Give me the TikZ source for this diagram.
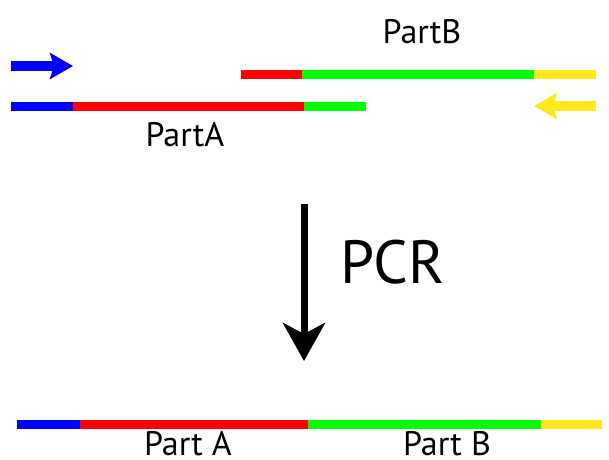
\documentclass[tikz,border=0pt]{standalone}
\usepackage{fontspec}
\setmainfont{PT Sans}
\usetikzlibrary{arrows.meta}
\definecolor{dnablue}{RGB}{0,0,255}
\definecolor{dnared}{RGB}{255,0,0}
\definecolor{dnagreen}{RGB}{0,255,0}
\definecolor{dnayellow}{RGB}{255,232,30}

\begin{document}
\begin{tikzpicture}[x=1pt,y=-1pt,
    strand/.style={line width=9pt},
    primer/.style={line width=10pt,-{Stealth[length=23pt,width=26pt,inset=4pt]}},
    lbl/.style={anchor=base,inner sep=0pt,font=\fontsize{34}{38}\selectfont}]
    \useasboundingbox (0,0) rectangle (609,459);

    % PartB template strand
    \draw[strand,dnared] (241,74) -- (302,74);
    \draw[strand,dnagreen] (302,74) -- (534,74);
    \draw[strand,dnayellow] (534,74) -- (596,74);
    \node[lbl] (partB) at (422,43) {PartB};

    % PartA template strand
    \draw[strand,dnablue] (11,106) -- (73,106);
    \draw[strand,dnared] (73,106) -- (304,106);
    \draw[strand,dnagreen] (304,106) -- (366,106);
    \node[lbl] (partA) at (185,146) {PartA};

    % primers
    \coordinate (fwdS) at (11,66);
    \coordinate (fwdE) at (73,66);
    \coordinate (revS) at (596,106);
    \coordinate (revE) at (534,106);
    \draw[primer,dnablue] (fwdS) -- (fwdE);
    \draw[primer,dnayellow] (revS) -- (revE);

    % PCR step
    \coordinate (pcrS) at (304,204);
    \coordinate (pcrE) at (304,361);
    \draw[line width=7pt,-{Stealth[length=38pt,width=42pt,inset=11pt]}] (pcrS) -- (pcrE);
    \node[anchor=base west,inner sep=0pt,font=\fontsize{61}{66}\selectfont] (pcr) at (340,283) {PCR};

    % fused product
    \draw[strand,dnablue] (17,424) -- (80,424);
    \draw[strand,dnared] (80,424) -- (308,424);
    \draw[strand,dnagreen] (308,424) -- (541,424);
    \draw[strand,dnayellow] (541,424) -- (602,424);
    \node[lbl,text depth=0pt] (prodA) at (188,455) {Part A};
    \node[lbl,text depth=0pt] (prodB) at (447,455) {Part B};
\end{tikzpicture}
\end{document}
